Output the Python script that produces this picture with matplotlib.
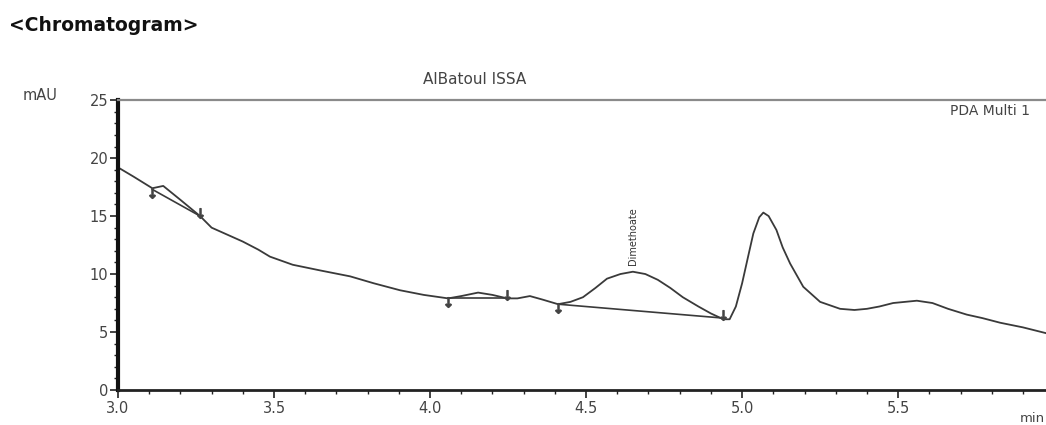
import matplotlib.pyplot as plt
from matplotlib.ticker import FixedLocator, MultipleLocator

plt.rcParams["font.family"] = ["DejaVu Sans"]

# signal (min, mAU)
tiempo = [3.00, 3.05, 3.11, 3.145, 3.20, 3.263, 3.30, 3.35, 3.40, 3.45, 3.487,
          3.56, 3.65, 3.744, 3.82, 3.904, 3.98, 4.058, 4.10, 4.154, 4.20,
          4.247, 4.28, 4.32, 4.36, 4.41, 4.45, 4.49, 4.53, 4.567, 4.61, 4.65,
          4.69, 4.73, 4.77, 4.81, 4.86, 4.90, 4.94, 4.96, 4.98, 5.00, 5.02,
          5.036, 5.055, 5.068, 5.085, 5.11, 5.13, 5.154, 5.196, 5.25, 5.314,
          5.36, 5.40, 5.44, 5.484, 5.56, 5.61, 5.66, 5.72, 5.77, 5.827, 5.90,
          5.974]
senal = [19.2, 18.4, 17.4, 17.6, 16.4, 15.0, 14.0, 13.4, 12.8, 12.1, 11.5,
         10.8, 10.3, 9.8, 9.2, 8.6, 8.2, 7.9, 8.1, 8.4, 8.2,
         7.9, 7.9, 8.1, 7.8, 7.4, 7.6, 8.0, 8.8, 9.6, 10.0, 10.2,
         10.0, 9.5, 8.8, 8.0, 7.2, 6.6, 6.1, 6.1, 7.2, 9.2, 11.6,
         13.5, 14.9, 15.3, 15.0, 13.8, 12.3, 10.9, 8.9, 7.6, 7.0,
         6.9, 7.0, 7.2, 7.5, 7.7, 7.5, 7.0, 6.5, 6.2, 5.8, 5.4,
         4.9]

# integration baselines (start, end) with their levels
base_t0 = [3.11, 4.058, 4.41]
base_y0 = [17.3, 7.9, 7.4]
base_t1 = [3.263, 4.247, 4.94]
base_y1 = [15.0, 7.9, 6.2]

pico_t = 4.65
pico_nombre = "Dimethoate"

x_ticks = [3.0, 3.5, 4.0, 4.5, 5.0, 5.5]

fig = plt.figure(figsize=(10.46, 4.25), dpi=100)
ax = fig.add_axes([0.1128, 0.0824, 0.895, 0.682])

ax.plot(tiempo, senal, color="#3a3a3a", lw=1.3)
for t0, y0, t1, y1 in zip(base_t0, base_y0, base_t1, base_y1):
    ax.plot([t0, t1], [y0, y1], color="#3a3a3a", lw=1.2)
    ax.plot(t0, y0 - 0.3, marker=r"$\downarrow$", ms=7, color="#444444")
    ax.plot(t1, y1 + 0.3, marker=r"$\downarrow$", ms=7, color="#444444")

ax.text(pico_t, 10.8, pico_nombre, rotation=90, fontsize=7, ha="center",
        va="bottom", color="#333333")

ax.set_xlim(3.0, 6.0)
ax.set_ylim(0, 25)
ax.xaxis.set_major_locator(FixedLocator(x_ticks))
ax.xaxis.set_minor_locator(MultipleLocator(0.1))
ax.yaxis.set_major_locator(MultipleLocator(5))
ax.yaxis.set_minor_locator(MultipleLocator(1))
ax.xaxis.set_major_formatter(plt.FormatStrFormatter("%.1f"))
ax.tick_params(axis="both", which="major", direction="out", length=6,
               width=1.2, labelsize=10.5, colors="#222222",
               labelcolor="#444444")
ax.tick_params(axis="both", which="minor", direction="out", length=3,
               width=1, colors="#222222")
ax.tick_params(axis="x", pad=2)
ax.tick_params(axis="y", pad=1)

ax.spines["left"].set_linewidth(3)
ax.spines["left"].set_color("#111111")
ax.spines["bottom"].set_linewidth(2)
ax.spines["bottom"].set_color("#222222")
ax.spines["top"].set_linewidth(1.6)
ax.spines["top"].set_color("#8a8a8a")
ax.spines["right"].set_visible(False)

fig.text(0.009, 0.94, "<Chromatogram>", fontsize=13.5, fontweight="bold",
         va="center", ha="left", color="#111111")
fig.text(0.022, 0.775, "mAU", fontsize=10.5, va="center", ha="left",
         color="#444444")
fig.text(0.454, 0.812, "AlBatoul ISSA", fontsize=11, va="center",
         ha="center", color="#444444")
fig.text(0.908, 0.738, "PDA Multi 1", fontsize=10, va="center", ha="left",
         color="#444444")
fig.text(0.975, 0.0, "min", fontsize=9.5, va="bottom", ha="left",
         color="#444444")

fig.savefig("out.png", dpi=100)
